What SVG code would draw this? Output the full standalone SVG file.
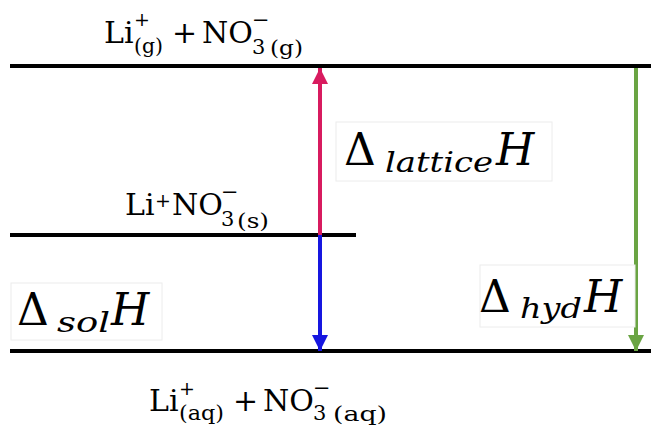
<svg xmlns="http://www.w3.org/2000/svg" width="651" height="425" viewBox="0 0 651 425">
<style>
.lvl{stroke:#000;stroke-width:4;fill:none}
.chem{font-family:"DejaVu Serif","Liberation Serif",serif;font-size:30px;fill:#000}
.s{font-size:21px}
.p{font-size:19px}
.math{font-family:"DejaVu Serif","Liberation Serif",serif;font-size:44px;fill:#000}
.it{font-style:italic}
.sub{font-size:28px;font-style:italic}
.box{fill:#fff;stroke:#ececec;stroke-width:1}
</style>
<defs>
<marker id="hp" markerWidth="4" markerHeight="4" refX="4" refY="2" orient="auto" markerUnits="strokeWidth"><path d="M0,0 L4,2 L0,4 Z" fill="#d81b5f"/></marker>
<marker id="hb" markerWidth="4" markerHeight="4" refX="4" refY="2" orient="auto" markerUnits="strokeWidth"><path d="M0,0 L4,2 L0,4 Z" fill="#1616e0"/></marker>
<marker id="hg" markerWidth="4" markerHeight="4" refX="4" refY="2" orient="auto" markerUnits="strokeWidth"><path d="M0,0 L4,2 L0,4 Z" fill="#6aa443"/></marker>
</defs>
<rect width="651" height="425" fill="#fff"/>
<g id="level-gas">
<line class="lvl" x1="10" y1="66" x2="651" y2="66"/>
<text class="chem"><tspan x="104" y="43">Li</tspan><tspan class="p" x="134" y="26">+</tspan><tspan class="s" x="134" y="53" textLength="29" lengthAdjust="spacingAndGlyphs">(g)</tspan><tspan x="172" y="43">+</tspan><tspan x="202" y="43">NO</tspan><tspan class="s" x="252" y="27">−</tspan><tspan class="s" x="252" y="54">3</tspan><tspan class="s" x="270" y="55" textLength="33" lengthAdjust="spacingAndGlyphs">(g)</tspan></text>
</g>
<g id="level-solid">
<line class="lvl" x1="10" y1="235" x2="356" y2="235"/>
<text class="chem"><tspan x="125" y="215">Li</tspan><tspan class="p" x="155" y="207">+</tspan><tspan x="172" y="215">NO</tspan><tspan class="s" x="221" y="199">−</tspan><tspan class="s" x="221" y="226">3</tspan><tspan class="s" x="237" y="228" textLength="32" lengthAdjust="spacingAndGlyphs">(s)</tspan></text>
</g>
<g id="level-aq">
<line class="lvl" x1="10" y1="351" x2="651" y2="351"/>
<text class="chem"><tspan x="149" y="411">Li</tspan><tspan class="p" x="179" y="395">+</tspan><tspan class="s" x="179" y="420" textLength="45" lengthAdjust="spacingAndGlyphs">(aq)</tspan><tspan x="233" y="411">+</tspan><tspan x="263" y="411">NO</tspan><tspan class="s" x="313" y="395">−</tspan><tspan class="s" x="313" y="420">3</tspan><tspan class="s" x="333" y="421" textLength="54" lengthAdjust="spacingAndGlyphs">(aq)</tspan></text>
</g>
<g id="connectors">
<line x1="320" y1="235" x2="320" y2="68" stroke="#d81b5f" stroke-width="4" marker-end="url(#hp)"/>
<line x1="320" y1="235" x2="320" y2="351" stroke="#1616e0" stroke-width="4" marker-end="url(#hb)"/>
<line x1="636" y1="68" x2="636" y2="351" stroke="#6aa443" stroke-width="4" marker-end="url(#hg)"/>
</g>
<g id="label-lattice">
<rect class="box" x="336" y="122" width="216" height="59"/>
<text class="math"><tspan x="344" y="165">Δ</tspan><tspan class="sub" x="385" y="172" textLength="108" lengthAdjust="spacingAndGlyphs">lattice</tspan><tspan class="it" x="496" y="165">H</tspan></text>
</g>
<g id="label-sol">
<rect class="box" x="11" y="283" width="151" height="57"/>
<text class="math"><tspan x="17" y="325">Δ</tspan><tspan class="sub" x="57" y="332" textLength="53" lengthAdjust="spacingAndGlyphs">sol</tspan><tspan class="it" x="111" y="325">H</tspan></text>
</g>
<g id="label-hyd">
<rect class="box" x="480" y="265" width="155" height="62"/>
<text class="math"><tspan x="479" y="312">Δ</tspan><tspan class="sub" x="520" y="318" textLength="62" lengthAdjust="spacingAndGlyphs">hyd</tspan><tspan class="it" x="584" y="312">H</tspan></text>
</g>
</svg>
